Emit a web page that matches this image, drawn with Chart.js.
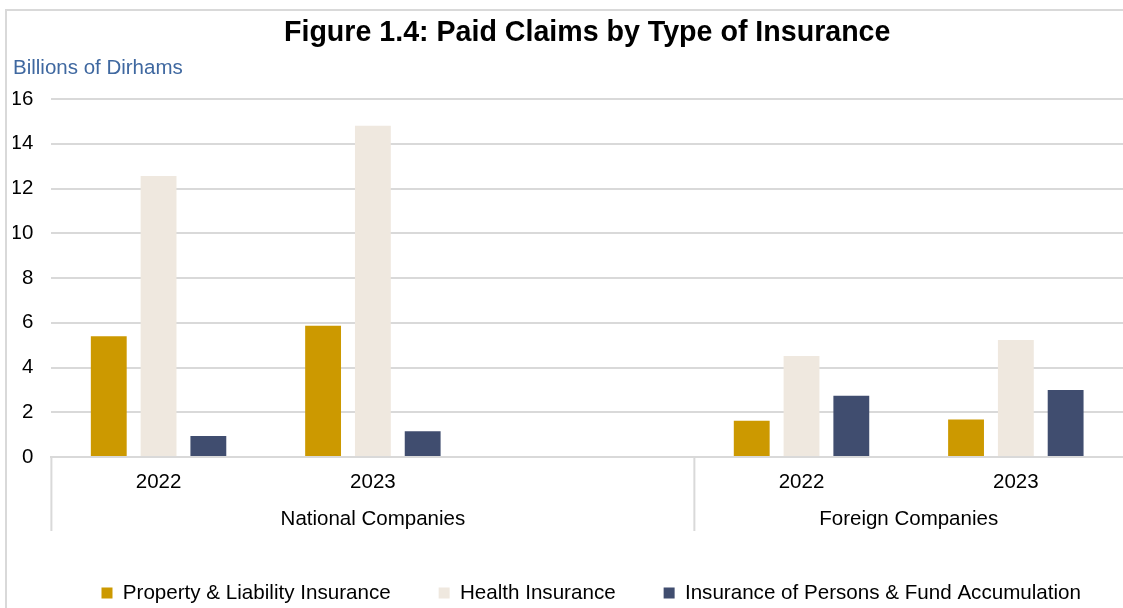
<!DOCTYPE html>
<html>
<head>
<meta charset="utf-8">
<script src="https://cdn.jsdelivr.net/npm/chart.js@4/dist/chart.umd.min.js"></script>
<style>
  html, body { margin: 0; padding: 0; background: #ffffff; }
  #wrap { width: 1123px; height: 608px; position: relative; }
</style>
</head>
<body>
<div id="wrap"><canvas id="c" width="1123" height="608"></canvas></div>
<script>
// ---- Data ----
const categories = ['2022', '2023', '', '2022', '2023'];
const groupLabels = ['National Companies', 'Foreign Companies'];
const groupFirstIndex = [0, 3];
const groupLastIndex = [2, 4];
const seriesNames = ['Property & Liability Insurance', 'Health Insurance', 'Insurance of Persons & Fund Accumulation'];
const propertyLiability = [5.40, 5.87, null, 1.62, 1.68];
const healthInsurance = [12.56, 14.80, null, 4.51, 5.23];
const personsFund = [0.94, 1.15, null, 2.74, 2.99];
const yMin = 0, yMax = 16, yStep = 2;

const FONT = '"Liberation Sans", Arial, sans-serif';
const GRID = '#D9D9D9';

const groupPlugin = {
  id: 'groupAxis',
  afterDraw(chart) {
    const ctx = chart.ctx;
    const x = chart.scales.x;
    const area = chart.chartArea;
    ctx.save();
    // outer frame (left + top)
    ctx.strokeStyle = '#D9D9D9';
    ctx.lineWidth = 2;
    ctx.beginPath();
    ctx.moveTo(6, 608);
    ctx.lineTo(6, 10);
    ctx.lineTo(1123, 10);
    ctx.stroke();
    // group separators and labels
    ctx.strokeStyle = GRID;
    ctx.lineWidth = 2;
    ctx.fillStyle = '#000000';
    ctx.font = '20.5px ' + FONT;
    ctx.textAlign = 'center';
    ctx.textBaseline = 'middle';
    for (let g = 0; g < groupLabels.length; g++) {
      const left = x.getPixelForValue(groupFirstIndex[g] - 0.5);
      const right = x.getPixelForValue(groupLastIndex[g] + 0.5);
      ctx.beginPath();
      ctx.moveTo(left, area.bottom);
      ctx.lineTo(left, area.bottom + 74);
      ctx.stroke();
      ctx.fillText(groupLabels[g], (left + right) / 2, area.bottom + 62);
    }
    ctx.restore();
  }
};

new Chart(document.getElementById('c'), {
  type: 'bar',
  data: {
    labels: categories,
    datasets: [
      { label: seriesNames[0], data: propertyLiability, backgroundColor: '#CC9900' },
      { label: seriesNames[1], data: healthInsurance, backgroundColor: '#EFE8DF' },
      { label: seriesNames[2], data: personsFund, backgroundColor: '#404D6F' }
    ]
  },
  options: {
    responsive: false,
    animation: false,
    devicePixelRatio: 1,
    layout: { padding: { left: 13, right: -6, top: 0, bottom: -5.3 } },
    datasets: { bar: { categoryPercentage: 0.697, barPercentage: 0.72 } },
    plugins: {
      title: {
        display: true,
        text: 'Figure 1.4: Paid Claims by Type of Insurance',
        fullSize: false,
        color: '#000000',
        font: { family: FONT, size: 28.6, weight: 'bold' },
        padding: { top: 15.8, bottom: 5.6 }
      },
      subtitle: {
        display: true,
        text: 'Billions of Dirhams',
        align: 'start',
        color: '#3F68A0',
        font: { family: FONT, size: 20.5 },
        padding: { top: 0, bottom: 18.7 }
      },
      legend: {
        position: 'bottom',
        align: 'end',
        labels: {
          boxWidth: 11,
          boxHeight: 11,
          padding: 48,
          color: '#000000',
          font: { family: FONT, size: 20.6 }
        }
      },
      tooltip: { enabled: false }
    },
    scales: {
      x: {
        grid: { display: false, drawTicks: false },
        border: { display: true, color: GRID, width: 2 },
        ticks: {
          color: '#000000',
          font: { family: FONT, size: 20.5 },
          padding: 13,
          autoSkip: false,
          maxRotation: 0,
          minRotation: 0
        },
        afterFit(scale) { scale.height = 77.7; }
      },
      y: {
        min: yMin,
        max: yMax,
        grid: { color: GRID, lineWidth: 2, drawTicks: false },
        border: { display: false },
        ticks: {
          stepSize: yStep,
          color: '#000000',
          font: { family: FONT, size: 20.5 },
          padding: 18
        },
        afterFit(scale) { scale.width = 38.4; }
      }
    }
  },
  plugins: [groupPlugin]
});
</script>
</body>
</html>
